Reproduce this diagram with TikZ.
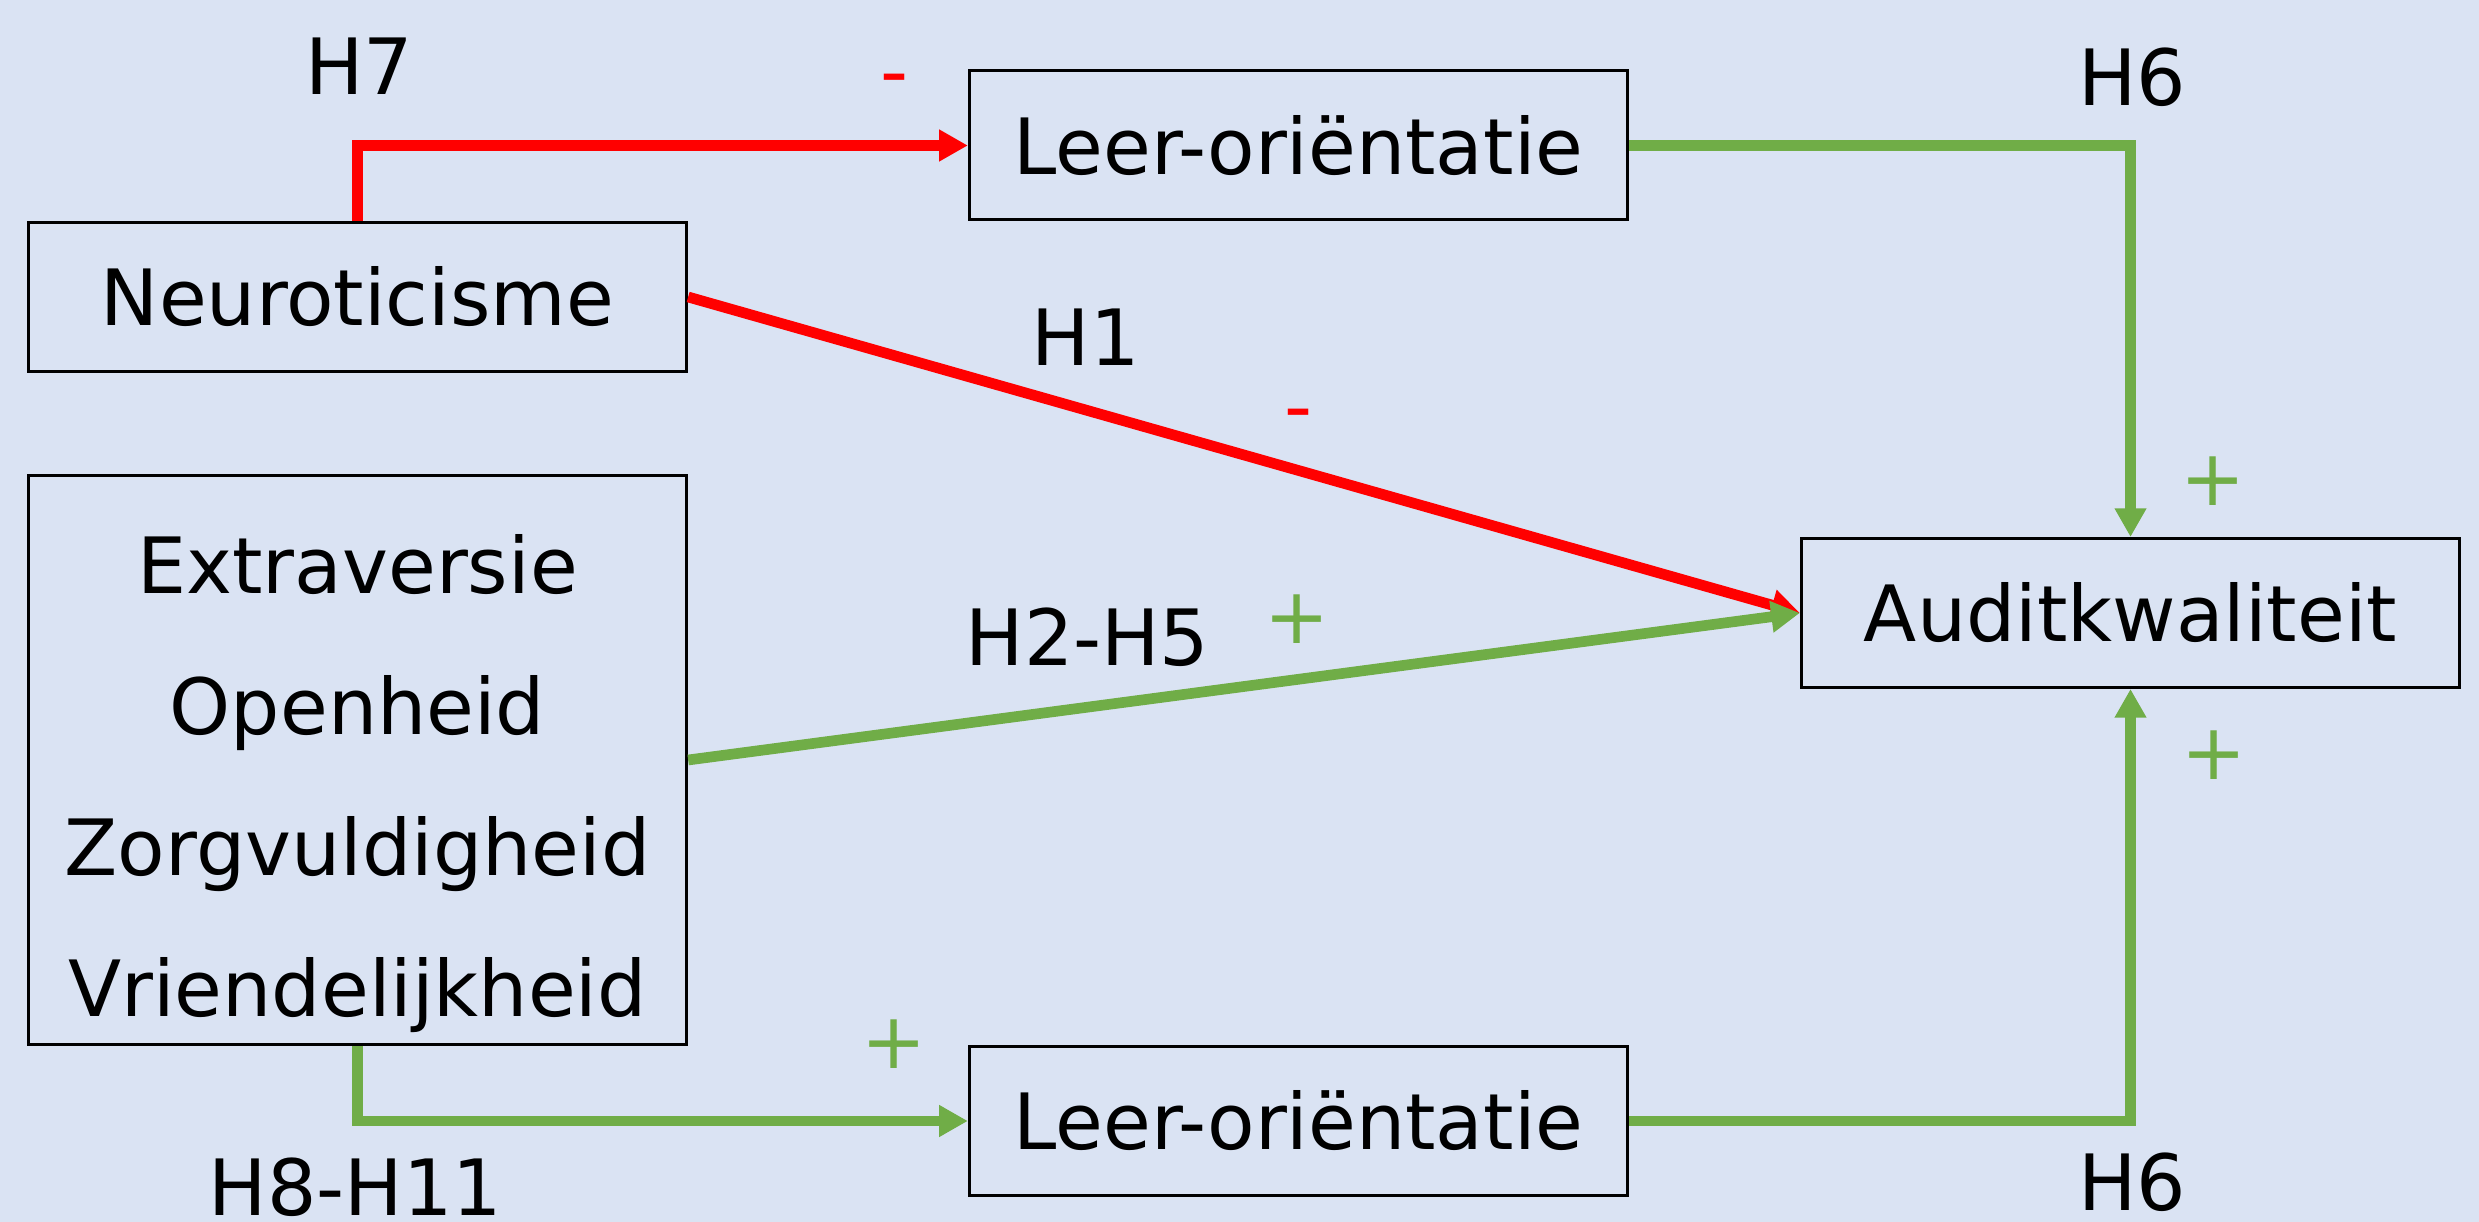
\documentclass[tikz,border=0pt]{standalone}
\usepackage{fontspec}
\setmainfont{DejaVu Sans}
\usetikzlibrary{arrows.meta}
\definecolor{bgblue}{HTML}{DAE3F3}
\definecolor{grn}{HTML}{70AD47}
\definecolor{rd}{HTML}{FF0000}
\begin{document}
\begin{tikzpicture}[x=0.3pt,y=-0.3pt,
  box/.style={draw=black, line width=0.9pt, minimum width=197.5pt, minimum height=44.7pt,
    inner sep=0pt, align=center, font=\fontsize{23.3pt}{42.3pt}\selectfont},
  lbl/.style={font=\fontsize{23.3pt}{28pt}\selectfont, inner sep=0pt, anchor=base},
  sign/.style={font=\fontsize{23.3pt}{28pt}\selectfont, inner sep=0pt},
  conn/.style={line width=3.2pt, -{Triangle[length=8.6pt,width=9pt]}},
]
\fill[bgblue] (0,0) rectangle (2479,1222);
\useasboundingbox (0,0) rectangle (2479,1222);

\node[box] (neuro) at (357.5,297) {Neuroticisme};
\node[box, minimum height=170.7pt] (traits) at (357.5,760)
  {\rule{0pt}{32.1pt}Extraversie\\Openheid\\Zorgvuldigheid\\Vriendelijkheid};
\node[box] (leer1) at (1298.5,145.5) {Leer-oriëntatie};
\node[box] (leer2) at (1298.5,1121) {Leer-oriëntatie};
\node[box] (audit) at (2130.5,613) {Auditkwaliteit};

\draw[conn, rd] (neuro.north) |- (leer1.west);
\draw[conn, rd] (neuro.east) -- (audit.west);
\draw[conn, grn] (leer1.east) -| (audit.north);
\draw[conn, grn] (traits.east) -- (audit.west);
\draw[conn, grn] (traits.south) |- (leer2.west);
\draw[conn, grn] (leer2.east) -| (audit.south);

\node[lbl] (h7) at (359,95) {H7};
\node[lbl] (h1) at (1085.5,366) {H1};
\node[lbl] (h25) at (1087.5,666) {H2-H5};
\node[lbl] (h6a) at (2132,106) {H6};
\node[lbl] (h6b) at (2132,1210) {H6};
\node[lbl] (h811) at (355.5,1215) {H8-H11};

\node[lbl, text=rd] (m1) at (895,99) {-};
\node[lbl, text=rd] (m2) at (1298,433.5) {-};
\node[sign, text=grn] (p1) at (2213.5,481) {+};
\node[sign, text=grn] (p2) at (2214,755) {+};
\node[sign, text=grn] (p3) at (894.5,1044) {+};
\node[sign, text=grn] (p4) at (1297.5,619.5) {+};
\end{tikzpicture}
\end{document}
